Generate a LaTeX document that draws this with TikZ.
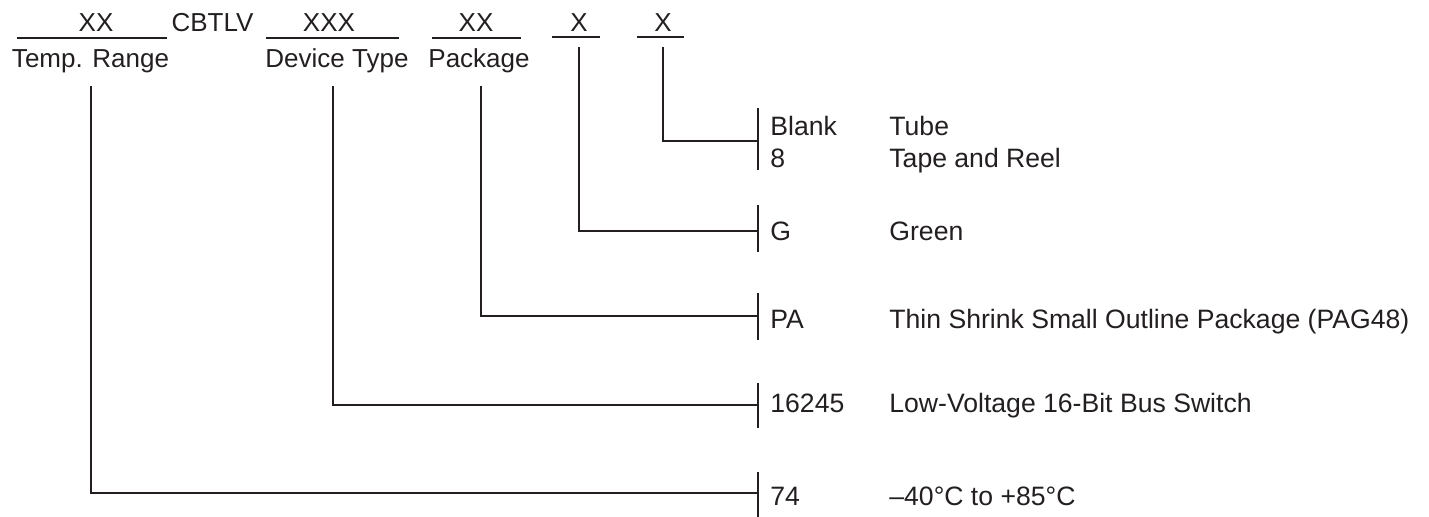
\documentclass[tikz,border=0pt]{standalone}
\usepackage{fontspec}
\setmainfont{Liberation Sans}
\usepackage{tikz}
\usetikzlibrary{positioning}
\usepackage{xcolor}
\definecolor{tiink}{RGB}{35,31,32}
\tikzstyle{field} = [inner sep=0pt, anchor=base, text=tiink, font=\fontsize{13}{15.6}\selectfont]
\tikzstyle{code} = [inner sep=0pt, anchor=base west, text=tiink, font=\fontsize{13.3}{16}\selectfont]
\tikzstyle{leader} = [line width=0.75pt, draw=tiink]

\begin{document}
\begin{tikzpicture}[x=0.5pt,y=-0.5pt]
\useasboundingbox (0,0) rectangle (1429,517);

% Part number fields
\node[field] (tempxx) at (96,32) {XX};
\node[field] (cbtlv) at (212.5,32) {CBTLV};
\node[field] (devxxx) at (329,32) {XXX};
\node[field] (pkgxx) at (476,32) {XX};
\node[field] (grnx) at (579,32) {X};
\node[field] (tapex) at (663,32) {X};

% Underlines
\draw[leader] (17,38) -- (167,38);
\draw[leader] (266,38) -- (399,38);
\draw[leader] (432,38) -- (521,38);
\draw[leader] (552,37) -- (600,37);
\draw[leader] (637,37) -- (684,37);

% Field names
\node[field] (temp) at (90.5,67.5) {Temp. Range};
\node[field] (dev) at (337,67.5) {Device Type};
\node[field] (pkg) at (479,67.5) {Package};

% Bars
\coordinate (tapebar) at (758,141);
\coordinate (grnbar) at (758,231);
\coordinate (pkgbar) at (758,316);
\coordinate (devbar) at (758,405);
\coordinate (tempbar) at (758,493);
\draw[leader] (tapebar) ++(0,-33) -- ++(0,62);
\draw[leader] (grnbar) ++(0,-26) -- ++(0,47);
\draw[leader] (pkgbar) ++(0,-23) -- ++(0,47);
\draw[leader] (devbar) ++(0,-22) -- ++(0,45);
\draw[leader] (tempbar) ++(0,-21) -- ++(0,46);

% Codes
\node[code] (blank) at (770,136) {Blank};
\node[code] (eight) at (770,168) {8};
\node[code] (g) at (770,241) {G};
\node[code] (pa) at (770,329) {PA};
\node[code] (type) at (770,413) {16245};
\node[code] (range) at (770,506) {74};

% Descriptions
\node[code] (tube) at (889,136) {Tube};
\node[code] (reel) at (889,168) {Tape and Reel};
\node[code] (green) at (889,241) {Green};
\node[code] (tssop) at (889,329) {Thin Shrink Small Outline Package (PAG48)};
\node[code] (busswitch) at (889,413) {Low-Voltage 16-Bit Bus Switch};
\node[code] (temps) at (889,506) {\textendash40\textdegree C to +85\textdegree C};

% Leaders
\draw[leader] (tapex.south) ++(0,15) |- (tapebar);
\draw[leader] (grnx.south) ++(0,15) |- (grnbar);
\draw[leader] (pkg.south) ++(2,13) |- (pkgbar);
\draw[leader] (dev.south) ++(-4,13) |- (devbar);
\draw[leader] (temp.south) ++(0.5,13) |- (tempbar);
\end{tikzpicture}
\end{document}
